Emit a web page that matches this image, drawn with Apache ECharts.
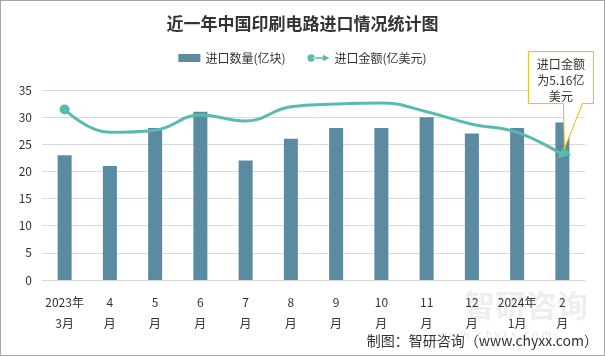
<!DOCTYPE html>
<html><head><meta charset="utf-8">
<script src="https://cdn.jsdelivr.net/npm/echarts@6/dist/echarts.min.js"></script>
<style>html,body{margin:0;padding:0;background:#fff}#c{width:605px;height:356px;box-sizing:border-box;border:1px solid #a6a6a6}</style>
</head><body><div id="c"></div>
<script>
const categories = ['2023年\n3月','4\n月','5\n月','6\n月','7\n月','8\n月','9\n月','10\n月','11\n月','12\n月','2024年\n1月','2\n月'];
const importQty = [23, 21, 28, 31, 22, 26, 28, 28, 30, 27, 28, 29];
const importAmountPlot = [31.4, 27.2, 27.6, 30.4, 29.3, 31.9, 32.4, 32.6, 31.0, 28.7, 27.2, 23.1];
const yTicks = [0, 5, 10, 15, 20, 25, 30, 35];
const calloutText = '进口金额\n为5.16亿\n美元';

const FONT = '"Noto Sans CJK SC", "Noto Sans", sans-serif';
const chart = echarts.init(document.getElementById('c'), null, {renderer: 'canvas'});
const lineColor = '#58bbb0';
const barColor = '#5b8ba1';
const lastIdx = importAmountPlot.length - 1;

const lineData = importAmountPlot.map((v, i) => {
  if (i === 0) return {value: v, symbol: 'circle', symbolSize: 10};
  if (i === lastIdx) return {value: v, symbol: 'triangle', symbolSize: [11, 13], symbolRotate: 128};
  return {value: v, symbol: 'none'};
});

const baseGraphic = [
  {type: 'text', right: 6, top: 333, style: {text: '制图：智研咨询（www.chyxx.com）', font: '14px ' + FONT, fill: '#333'}},
  {type: 'text', left: 463, top: 289, style: {text: '智研咨询', font: 'bold 31px ' + FONT, fill: 'rgba(170,180,190,0.22)'}},
  {type: 'text', left: 437, top: 327, style: {text: 'w w w . c h y x x . c o m', font: '11px ' + FONT, fill: 'rgba(170,180,190,0.3)'}}
];

chart.setOption({
  backgroundColor: '#fff',
  animation: false,
  title: {
    text: '近一年中国印刷电路进口情况统计图',
    left: 'center', top: 9,
    textStyle: {fontFamily: FONT, fontSize: 17, fontWeight: 'bold', color: '#333'}
  },
  legend: {
    top: 46, left: 'center', itemGap: 22,
    textStyle: {fontFamily: FONT, fontSize: 12, color: '#333'},
    data: [
      {name: '进口数量(亿块)', icon: 'rect', itemStyle: {color: barColor}},
      {name: '进口金额(亿美元)', icon: 'path://M0,5A5,5,0,1,0,10,5A5,5,0,1,0,0,5Z M8,4L23,4L23,6L8,6Z M21,0.5L30,5L21,9.5Z', itemStyle: {color: lineColor}}
    ],
    itemWidth: 22, itemHeight: 8
  },
  grid: {left: 41, right: 19, top: 89, bottom: 75, containLabel: false},
  xAxis: {
    type: 'category', data: categories,
    axisLine: {lineStyle: {color: '#d9d9d9'}},
    axisTick: {show: false},
    axisLabel: {fontFamily: FONT, fontSize: 12, color: '#333', lineHeight: 21, margin: 12, interval: 0}
  },
  yAxis: {
    type: 'value', min: yTicks[0], max: yTicks[yTicks.length - 1], interval: 5,
    axisLine: {show: false}, axisTick: {show: false},
    axisLabel: {fontFamily: FONT, fontSize: 12, color: '#333', margin: 10},
    splitLine: {lineStyle: {color: '#dcd8de'}}
  },
  series: [
    {name: '进口数量(亿块)', type: 'bar', data: importQty, barWidth: 14, itemStyle: {color: barColor}, z: 2},
    {name: '进口金额(亿美元)', type: 'line', data: lineData, smooth: 0.45,
     lineStyle: {color: lineColor, width: 3}, itemStyle: {color: lineColor}, z: 3}
  ],
  graphic: baseGraphic
});

// callout anchored to last line point
const p = chart.convertToPixel({seriesIndex: 1}, [lastIdx, importAmountPlot[lastIdx]]);
const tx = p[0] + 2, ty = p[1] - 6;
const bx0 = tx - 36, bx1 = tx + 29, by0 = ty - 97, by1 = ty - 45;
chart.setOption({
  graphic: baseGraphic.concat([
    {type: 'polygon', z: 10, shape: {points: [[bx0, by0], [bx1, by0], [bx1, by1], [tx + 18, by1], [tx, ty], [tx - 1, by1], [bx0, by1]]},
     style: {fill: '#fff', stroke: '#f2b705', lineWidth: 1}},
    {type: 'text', z: 11, x: (bx0 + bx1) / 2, y: by0 + 5,
     style: {text: calloutText, font: '12px ' + FONT, fill: '#333', align: 'center', verticalAlign: 'top', lineHeight: 16}}
  ])
}, {replaceMerge: ['graphic']});
</script></body></html>
